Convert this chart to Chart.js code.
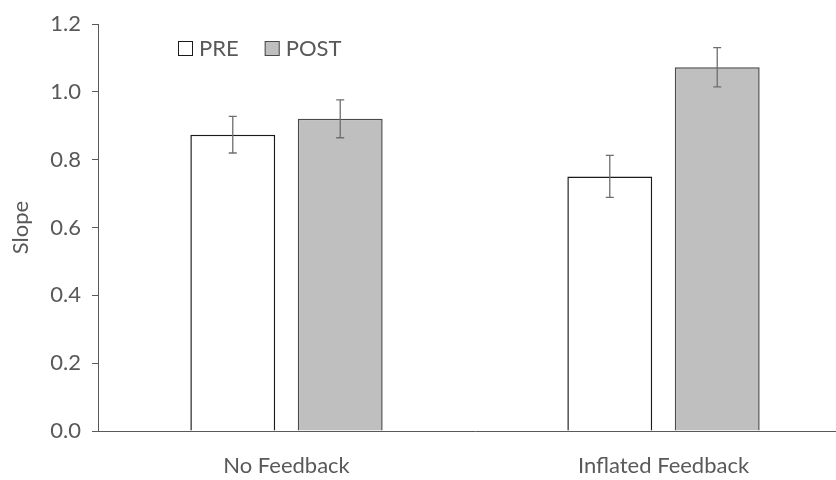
<!DOCTYPE html>
<html>
<head>
<meta charset="utf-8">
<script src="https://cdn.jsdelivr.net/npm/chart.js@4"></script>
<style>
  html, body { margin: 0; padding: 0; background: #fff; overflow: hidden; }
  #wrap { width: 852px; height: 480px; }
</style>
</head>
<body>
<div id="wrap"><canvas id="bar-chart"></canvas></div>
<script>
var categories = ['No Feedback', 'Inflated Feedback'];
var preValues = [0.874, 0.751];
var postValues = [0.921, 1.073];
var preErrors = [0.054, 0.062];
var postErrors = [0.056, 0.058];
var yTicks = [0, 0.2, 0.4, 0.6, 0.8, 1.0, 1.2];

var textColor = '#595959';
var fontFamily = "Lato, 'Open Sans', sans-serif";

// error bars drawn from the y scale
var errorBars = {
    id: 'errorBars',
    afterDatasetsDraw: function(chart) {
        var ctx = chart.ctx;
        var y = chart.scales.y;
        chart.data.datasets.forEach(function(ds, di) {
            var meta = chart.getDatasetMeta(di);
            meta.data.forEach(function(bar, i) {
                var v = ds.data[i], e = ds.errors[i];
                var top = y.getPixelForValue(v + e);
                var bot = y.getPixelForValue(v - e);
                ctx.save();
                ctx.strokeStyle = '#6e6e6e';
                ctx.lineWidth = 1.3;
                ctx.beginPath();
                ctx.moveTo(bar.x, top); ctx.lineTo(bar.x, bot);
                ctx.moveTo(bar.x - 4, top); ctx.lineTo(bar.x + 4, top);
                ctx.moveTo(bar.x - 4, bot); ctx.lineTo(bar.x + 4, bot);
                ctx.stroke();
                ctx.restore();
            });
        });
    }
};

// legend drawn inside plot area
var insideLegend = {
    id: 'insideLegend',
    afterDraw: function(chart) {
        var ctx = chart.ctx;
        var x = chart.chartArea.left + 80;
        var yMid = 48;
        ctx.save();
        ctx.font = '22px ' + fontFamily;
        ctx.textBaseline = 'middle';
        chart.data.datasets.forEach(function(ds) {
            ctx.fillStyle = ds.backgroundColor;
            ctx.strokeStyle = ds.borderColor;
            ctx.lineWidth = 1;
            ctx.fillRect(x, yMid - 7, 15, 15);
            ctx.strokeRect(x + 0.5, yMid - 6.5, 14, 14);
            ctx.fillStyle = textColor;
            ctx.fillText(ds.label, x + 21, yMid + 1);
            x += 21 + ctx.measureText(ds.label).width + 26;
        });
        ctx.restore();
    }
};

var ctx = document.getElementById('bar-chart').getContext('2d');
var chart = new Chart(ctx, {
    type: 'bar',
    data: {
        labels: categories,
        datasets: [
            {
                label: 'PRE',
                data: preValues,
                errors: preErrors,
                backgroundColor: '#ffffff',
                borderColor: '#1a1a1a',
                borderWidth: 1.5,
                barPercentage: 0.79,
                categoryPercentage: 0.57
            },
            {
                label: 'POST',
                data: postValues,
                errors: postErrors,
                backgroundColor: '#bfbfbf',
                borderColor: '#4a4a4a',
                borderWidth: 1.5,
                barPercentage: 0.79,
                categoryPercentage: 0.57
            }
        ]
    },
    options: {
        responsive: true,
        maintainAspectRatio: false,
        animation: false,
        layout: { padding: { top: 12, right: 0, bottom: 0, left: 8 } },
        plugins: {
            legend: { display: false },
            tooltip: { enabled: false }
        },
        scales: {
            x: {
                afterFit: function(axis) { axis.height = 49; },
                grid: { display: false, drawTicks: false },
                border: { display: true, color: '#595959', width: 1 },
                ticks: {
                    color: textColor,
                    padding: 22,
                    font: { family: fontFamily, size: 22 }
                }
            },
            y: {
                min: 0,
                max: 1.2,
                afterFit: function(axis) { axis.width = 90; },
                afterBuildTicks: function(axis) {
                    axis.ticks = yTicks.map(function(v) { return { value: v }; });
                },
                grid: {
                    drawOnChartArea: false,
                    drawTicks: true,
                    tickLength: 6,
                    color: '#595959'
                },
                border: { display: true, color: '#595959', width: 1 },
                ticks: {
                    color: textColor,
                    padding: 11,
                    font: { family: fontFamily, size: 22 },
                    callback: function(v) { return v.toFixed(1); }
                },
                title: {
                    display: true,
                    text: 'Slope',
                    color: textColor,
                    padding: { top: 0, bottom: 0 },
                    font: { family: fontFamily, size: 22, weight: 'normal' }
                }
            }
        }
    },
    plugins: [errorBars, insideLegend]
});
</script>
</body>
</html>
